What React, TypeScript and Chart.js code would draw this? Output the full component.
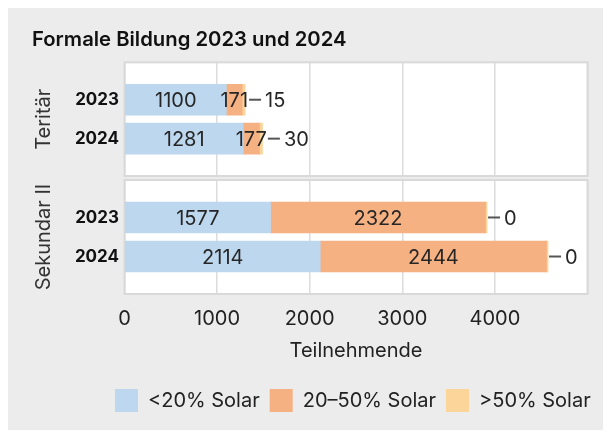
import { useEffect, useRef } from 'react';
import { Chart, registerables } from 'chart.js';

Chart.register(...registerables);

// ---------- data ----------
const chartTitle = 'Formale Bildung 2023 und 2024';
const groupNames = ['Teritär', 'Sekundar II'];
const years = ['2023', '2024'];
const seriesNames = ['<20% Solar', '20–50% Solar', '>50% Solar'];
const tertiaryLow = [1100, 1281];
const tertiaryMid = [171, 177];
const tertiaryHigh = [15, 30];
const secondaryLow = [1577, 2114];
const secondaryMid = [2322, 2444];
const secondaryHigh = [0, 0];
const xTickValues = [0, 1000, 2000, 3000, 4000];
const xMax = 5000;
const xTitle = 'Teilnehmende';

const FONT = 'Inter, "Noto Sans", sans-serif';
const COLORS = ['#bdd7ee', '#f6b183', '#fcd59b'];

const panelPlugin = {
  id: 'panelBg',
  beforeDraw(chart: any) {
    const { ctx, chartArea: a } = chart;
    ctx.save();
    ctx.fillStyle = '#ffffff';
    ctx.fillRect(a.left, a.top, a.right - a.left, a.bottom - a.top);
    ctx.restore();
  },
  beforeDatasetsDraw(chart: any) {
    const { ctx, chartArea: a } = chart;
    ctx.save();
    ctx.strokeStyle = '#d9d9d9';
    ctx.lineWidth = 2;
    ctx.strokeRect(a.left, a.top, a.right - a.left, a.bottom - a.top);
    ctx.restore();
  },
};

const labelPlugin = {
  id: 'barLabels',
  afterDatasetsDraw(chart: any) {
    const ctx = chart.ctx;
    ctx.save();
    ctx.font = `400 20px ${FONT}`;
    ctx.fillStyle = '#262626';
    ctx.textBaseline = 'middle';
    const n = chart.data.labels.length;
    for (let i = 0; i < n; i++) {
      let rightmost = -Infinity;
      for (let d = 0; d < 2; d++) {
        const el = chart.getDatasetMeta(d).data[i];
        const { x, base, y } = el.getProps(['x', 'base', 'y'], true);
        const text = String(chart.data.datasets[d].data[i]);
        const cx = (x + base) / 2;
        ctx.textAlign = 'center';
        ctx.fillText(text, cx, y + 1.5);
        rightmost = Math.max(rightmost, cx + ctx.measureText(text).width / 2);
      }
      const el = chart.getDatasetMeta(2).data[i];
      const { x, y } = el.getProps(['x', 'y'], true);
      const start = Math.max(x, rightmost) + 1;
      ctx.strokeStyle = '#555555';
      ctx.lineWidth = 2;
      ctx.beginPath();
      ctx.moveTo(start, y);
      ctx.lineTo(start + 12, y);
      ctx.stroke();
      ctx.textAlign = 'left';
      ctx.fillText(String(chart.data.datasets[2].data[i]), start + 16, y + 1.5);
    }
    ctx.restore();
  },
};

function makeConfig(group: number, bottom: boolean): any {
  const low = group === 0 ? tertiaryLow : secondaryLow;
  const mid = group === 0 ? tertiaryMid : secondaryMid;
  const high = group === 0 ? tertiaryHigh : secondaryHigh;
  const values = [low, mid, high];
  const datasets = values.map((v, k) => ({
    label: seriesNames[k],
    data: v,
    backgroundColor: COLORS[k],
    borderWidth: 0,
    barThickness: 31,
    minBarLength: k === 2 ? 3 : 0,
  }));
  const scales: any = {
    x: {
      type: 'linear',
      stacked: true,
      min: 0,
      max: xMax,
      border: { display: false },
      grid: { color: '#dcdcdc', lineWidth: 1.5, drawTicks: false },
      ticks: {
        display: bottom,
        stepSize: 1000,
        autoSkip: false,
        maxRotation: 0,
        padding: 12.7,
        color: '#222222',
        font: { family: FONT, size: 20 },
        callback: (v: number) => (xTickValues.includes(v) ? String(v) : ''),
      },
      title: {
        display: bottom,
        text: xTitle,
        color: '#222222',
        font: { family: FONT, size: 20 },
        padding: { top: -4.9, bottom: 16.5 },
      },
    },
    y: {
      type: 'linear',
      stacked: true,
      reverse: true,
      offset: false,
      min: -0.96,
      max: 1.96,
      border: { display: false },
      grid: { display: false, drawTicks: false, offset: false },
      ticks: {
        stepSize: 1,
        includeBounds: false,
        padding: 5.5,
        color: '#111111',
        font: { family: FONT, size: 17, weight: '700' },
        callback: (v: number) => (years[v] !== undefined ? years[v] : ''),
      },
      title: {
        display: true,
        text: groupNames[group],
        color: '#333333',
        font: { family: FONT, size: 20 },
        padding: { top: 0, bottom: 0 },
      },
      afterFit: (s: any) => {
        s.width = 92.5;
      },
    },
  };
  if (bottom) {
    scales.yr = {
      type: 'linear',
      position: 'right',
      display: true,
      border: { display: false },
      grid: { display: false, drawTicks: false },
      ticks: { display: false },
      afterFit: (s: any) => {
        s.width = 13.2;
      },
    };
  }
  return {
    type: 'bar',
    data: {
      labels: years.map((_, i) => i),
      datasets,
    },
    options: {
      indexAxis: 'y',
      responsive: false,
      animation: false,
      events: [],
      layout: {
        padding: bottom
          ? { left: 26, right: 4.3, top: 20, bottom: 8 }
          : { left: 26, right: 17.5, top: 0, bottom: 20 },
      },
      scales,
      plugins: {
        tooltip: { enabled: false },
        title: {
          display: !bottom,
          text: chartTitle,
          align: 'start',
          color: '#111111',
          font: { family: FONT, size: 20.3, weight: '600' },
          padding: { top: 20, bottom: 10 },
        },
        legend: {
          display: bottom,
          position: 'bottom',
          align: 'end',
          labels: {
            boxWidth: 23,
            boxHeight: 23,
            padding: 10,
            color: '#222222',
            font: { family: FONT, size: 20 },
          },
        },
      },
    },
    plugins: [panelPlugin, labelPlugin],
  };
}

export default function App() {
  const topRef = useRef<HTMLCanvasElement>(null);
  const botRef = useRef<HTMLCanvasElement>(null);
  useEffect(() => {
    const c1 = new Chart(topRef.current as HTMLCanvasElement, makeConfig(0, false));
    const c2 = new Chart(botRef.current as HTMLCanvasElement, makeConfig(1, true));
    return () => {
      c1.destroy();
      c2.destroy();
    };
  }, []);
  return (
    <div
      style={{
        position: 'relative',
        width: 599,
        height: 422,
        marginLeft: -2,
        background: '#ececec',
      }}
    >
      <canvas
        ref={topRef}
        width={599}
        height={188}
        style={{ position: 'absolute', left: 0, top: 0, width: 599, height: 188 }}
      />
      <canvas
        ref={botRef}
        width={599}
        height={270}
        style={{ position: 'absolute', left: 0, top: 152, width: 599, height: 270 }}
      />
    </div>
  );
}
